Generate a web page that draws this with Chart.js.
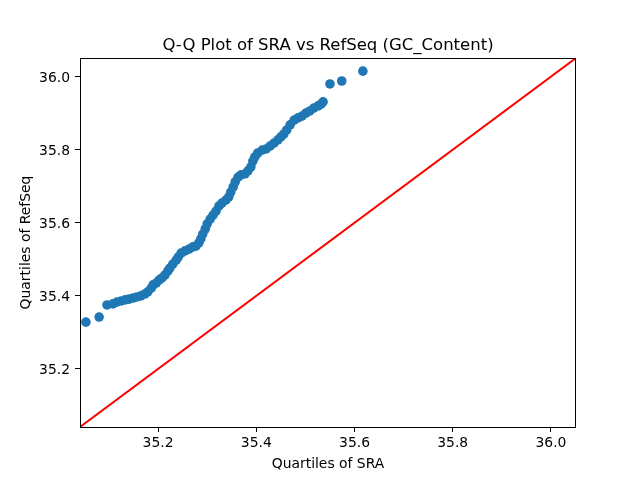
<!DOCTYPE html>
<html>
<head>
<meta charset="utf-8">
<script src="https://cdn.jsdelivr.net/npm/chart.js@4"></script>
<style>
  body { margin: 0; background: #fff; }
  #wrap { width: 640px; height: 480px; }
</style>
</head>
<body>
<div id="wrap"><canvas id="qq-chart" width="640" height="480"></canvas></div>
<script>
// Sorted quantiles
const sraQuantiles = [
  35.053, 35.080, 35.096, 35.108, 35.116, 35.125, 35.133, 35.141, 35.149, 35.157,
  35.165, 35.173, 35.179, 35.186, 35.190, 35.196, 35.202, 35.208, 35.214, 35.220,
  35.224, 35.230, 35.237, 35.241, 35.247, 35.255, 35.263, 35.271, 35.277, 35.283,
  35.287, 35.291, 35.296, 35.300, 35.306, 35.312, 35.318, 35.324, 35.330, 35.338,
  35.344, 35.348, 35.353, 35.357, 35.363, 35.369, 35.377, 35.383, 35.389, 35.393,
  35.397, 35.403, 35.412, 35.420, 35.428, 35.436, 35.444, 35.450, 35.456, 35.462,
  35.469, 35.477, 35.485, 35.493, 35.501, 35.509, 35.517, 35.526, 35.532, 35.536,
  35.550, 35.574, 35.617
];
const refseqQuantiles = [
  35.328, 35.342, 35.375, 35.378, 35.383, 35.386, 35.389, 35.391, 35.394, 35.397,
  35.400, 35.405, 35.411, 35.421, 35.430, 35.435, 35.443, 35.449, 35.457, 35.468,
  35.476, 35.487, 35.498, 35.506, 35.517, 35.523, 35.528, 35.534, 35.536, 35.545,
  35.556, 35.569, 35.583, 35.597, 35.610, 35.621, 35.632, 35.646, 35.654, 35.662,
  35.671, 35.684, 35.698, 35.712, 35.725, 35.731, 35.734, 35.742, 35.753, 35.769,
  35.780, 35.791, 35.799, 35.802, 35.810, 35.818, 35.827, 35.835, 35.843, 35.854,
  35.868, 35.881, 35.887, 35.892, 35.900, 35.906, 35.914, 35.920, 35.925, 35.931,
  35.980, 35.988, 36.015
];
const axisLow = 35.041;
const axisHigh = 36.051;
const xTicks = [35.2, 35.4, 35.6, 35.8, 36.0];
const yTicks = [35.2, 35.4, 35.6, 35.8, 36.0];

const titleText = 'Q-Q Plot of SRA vs RefSeq (GC_Content)';
const fontFamily = '"DejaVu Sans", sans-serif';

const points = sraQuantiles.map((x, i) => ({ x: x, y: refseqQuantiles[i] }));
const refLine = [{ x: axisLow, y: axisLow }, { x: axisHigh, y: axisHigh }];

// Title over the plot area plus the full box frame
const framePlugin = {
  id: 'frame',
  afterDraw(chart) {
    const { ctx, chartArea: a } = chart;
    ctx.save();
    ctx.strokeStyle = '#000';
    ctx.lineWidth = 1;
    ctx.strokeRect(Math.round(a.left) + 0.5, Math.round(a.top) + 0.5,
      Math.round(a.right - a.left) - 1, Math.round(a.bottom - a.top));
    ctx.fillStyle = '#000';
    ctx.font = '16.5px ' + fontFamily;
    ctx.textAlign = 'center';
    ctx.textBaseline = 'alphabetic';
    ctx.fillText(titleText, (a.left + a.right) / 2, 49.5);
    ctx.restore();
  }
};

const tickFont = { family: fontFamily, size: 13.9 };

new Chart(document.getElementById('qq-chart').getContext('2d'), {
  type: 'scatter',
  data: {
    datasets: [
      {
        data: refLine,
        type: 'line',
        showLine: true,
        borderColor: '#ff0000',
        borderWidth: 2,
        pointRadius: 0,
        fill: false
      },
      {
        data: points,
        backgroundColor: '#1f77b4',
        borderWidth: 0,
        pointRadius: 4.8
      }
    ]
  },
  plugins: [framePlugin],
  options: {
    responsive: false,
    animation: false,
    devicePixelRatio: 1,
    layout: { padding: { top: 58, right: 64, left: 0, bottom: 0 } },
    plugins: {
      legend: { display: false },
      tooltip: { enabled: false },
      title: { display: false }
    },
    scales: {
      x: {
        type: 'linear',
        min: axisLow,
        max: axisHigh,
        afterBuildTicks: s => { s.ticks = xTicks.map(v => ({ value: v })); },
        afterFit: s => { s.height = 53; },
        border: { display: false },
        grid: { drawOnChartArea: false, drawTicks: true, tickLength: 5, color: '#000' },
        ticks: { color: '#000', font: tickFont, padding: 3, maxRotation: 0,
          callback: v => v.toFixed(1) },
        title: { display: true, text: 'Quartiles of SRA', color: '#000', font: tickFont,
          padding: { top: 0, bottom: 7 } }
      },
      y: {
        type: 'linear',
        min: axisLow,
        max: axisHigh,
        afterBuildTicks: s => { s.ticks = yTicks.map(v => ({ value: v })); },
        afterFit: s => { s.width = 80; },
        border: { display: false },
        grid: { drawOnChartArea: false, drawTicks: true, tickLength: 5, color: '#000' },
        ticks: { color: '#000', font: tickFont, padding: 5, labelOffset: 1.5,
          callback: v => v.toFixed(1) },
        title: { display: true, text: 'Quartiles of RefSeq', color: '#000', font: tickFont,
          padding: { top: 18, bottom: 0 } }
      }
    }
  }
});
</script>
</body>
</html>
